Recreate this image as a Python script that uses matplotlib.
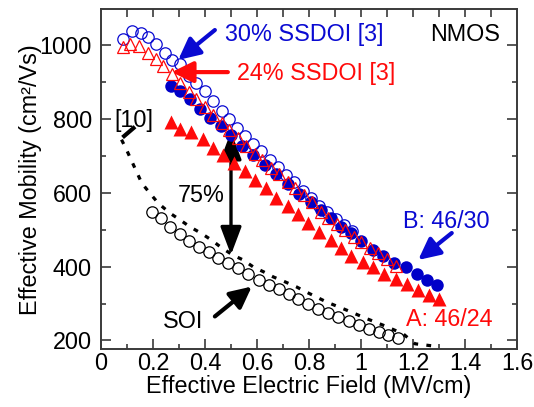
import numpy as np
import matplotlib
matplotlib.use("Agg")
import matplotlib.pyplot as plt
from matplotlib.ticker import MultipleLocator, FuncFormatter

plt.rcParams['font.family'] = ['Liberation Sans', 'DejaVu Sans']
plt.rcParams['font.size'] = 16.8

BLUE = '#0a0ad2'
RED = '#ff0a0a'

# 30% SSDOI [3] reference data (open blue circles)
ssdoi30_x = [0.084, 0.118, 0.152, 0.181, 0.211, 0.245, 0.274, 0.303, 0.338, 0.367,
             0.401, 0.430, 0.464, 0.494, 0.523, 0.552, 0.586, 0.616, 0.650, 0.679,
             0.713, 0.743, 0.777, 0.806, 0.840, 0.870, 0.904, 0.933, 0.967]
ssdoi30_y = [1018, 1039, 1033, 1021, 1003, 980, 959, 948, 916, 898,
             876, 849, 821, 799, 776, 753, 731, 712, 690, 670,
             648, 628, 606, 586, 565, 548, 530, 514, 497]

# 24% SSDOI [3] reference data (open red triangles)
ssdoi24_x = [0.084, 0.113, 0.147, 0.181, 0.211, 0.240, 0.274, 0.303, 0.338, 0.367,
             0.401, 0.430, 0.464, 0.494, 0.528, 0.557, 0.591, 0.621, 0.655, 0.684,
             0.718, 0.748, 0.782, 0.811, 0.845, 0.874, 0.909, 0.938, 0.972, 1.001,
             1.035, 1.065, 1.099, 1.133]
ssdoi24_y = [994, 1003, 998, 980, 962, 944, 921, 898, 874, 855,
             833, 812, 790, 770, 748, 727, 706, 688, 668, 650,
             630, 612, 594, 576, 548, 532, 515, 500, 480, 466,
             450, 436, 420, 402]

# device B: 46/30
dev_b_x = [0.269, 0.303, 0.342, 0.381, 0.421, 0.460, 0.499, 0.543, 0.586, 0.630,
           0.674, 0.718, 0.762, 0.806, 0.845, 0.884, 0.923, 0.962, 1.001, 1.045,
           1.084, 1.128, 1.172, 1.216, 1.255, 1.294]
dev_b_y = [889, 876, 853, 826, 803, 780, 756, 728, 703, 676,
           650, 624, 598, 576, 554, 531, 508, 490, 469, 445,
           429, 410, 398, 381, 365, 350]

# device A: 46/24
dev_a_x = [0.269, 0.303, 0.347, 0.391, 0.430, 0.469, 0.513, 0.552, 0.591, 0.635,
           0.674, 0.718, 0.757, 0.796, 0.840, 0.884, 0.923, 0.962, 1.006, 1.045,
           1.089, 1.133, 1.177, 1.221, 1.260, 1.299]
dev_a_y = [791, 773, 764, 746, 722, 703, 682, 658, 635, 612,
           587, 565, 542, 518, 495, 472, 450, 429, 413, 398,
           381, 366, 352, 336, 322, 312]

# SOI control
soi_x = [0.196, 0.230, 0.264, 0.303, 0.338, 0.377, 0.416, 0.450, 0.489, 0.528,
         0.567, 0.606, 0.645, 0.684, 0.723, 0.757, 0.796, 0.835, 0.874, 0.913,
         0.952, 0.992, 1.031, 1.070, 1.104, 1.143]
soi_y = [549, 531, 507, 488, 469, 454, 440, 422, 409, 395,
         379, 365, 351, 338, 326, 313, 300, 286, 274, 263,
         253, 241, 232, 223, 216, 206]

# SOI curve from [10]
ref10_x = [0.079, 0.098, 0.157, 0.188, 0.220, 0.265, 0.303, 0.342, 0.386, 0.425,
           0.464, 0.508, 0.547, 0.586, 0.625, 0.663, 0.707, 0.752, 0.790, 0.868,
           0.945, 1.022, 1.086, 1.162, 1.207, 1.277]
ref10_y = [744, 717, 626, 599, 572, 545, 527, 508, 490, 472,
           451, 431, 418, 399, 386, 372, 359, 345, 331, 304,
           282, 259, 241, 218, 191, 185]


def arrow(ax, tip, tail, color, style='-|>,head_length=0.65,head_width=0.32', lw=3):
    ax.annotate('', xy=tip, xytext=tail,
                arrowprops=dict(arrowstyle=style, mutation_scale=20, lw=lw,
                                color=color, shrinkA=0, shrinkB=0))


fig = plt.figure(figsize=(5.34, 4.07), dpi=100)
ax = fig.add_axes([0.1891, 0.1418, 0.7791, 0.8361])

ax.plot(ref10_x, ref10_y, color='black', lw=2.3, linestyle=(0, (1.5, 2.6)),
        dash_capstyle='butt', zorder=2)
ax.plot(soi_x, soi_y, 'o', ms=8.2, mfc='none', mec='black', mew=0.9, zorder=3)
ax.plot(ssdoi30_x, ssdoi30_y, 'o', ms=8.2, mfc='none', mec=BLUE, mew=0.9, zorder=3)
ax.plot(dev_b_x, dev_b_y, 'o', ms=9, color='#0000c8', mec='none', zorder=4)
ax.plot(ssdoi24_x, ssdoi24_y, '^', ms=8.5, mfc='none', mec=RED, mew=0.9, zorder=5)
ax.plot(dev_a_x, dev_a_y, '^', ms=9.5, color=RED, mec='none', zorder=5)

# text labels and arrows
ax.text(0.477, 1011, '30% SSDOI [3]', color=BLUE)
arrow(ax, (0.297, 960), (0.438, 1041), BLUE)
ax.text(0.522, 906, '24% SSDOI [3]', color=RED)
arrow(ax, (0.272, 927), (0.488, 927), RED)
ax.text(1.265, 1012, 'NMOS', color='black')

ax.text(0.127, 797, '[10]', ha='center', va='center')
ax.plot([0.131, 0.083], [779, 750], color='black', lw=3, solid_capstyle='butt')

arrow(ax, (0.5, 432), (0.5, 766), 'black',
      style='<|-|>,head_length=0.85,head_width=0.32', lw=2.4)
ax.text(0.387, 594, '75%', ha='center', va='center')

ax.text(0.237, 234, 'SOI', color='black')
arrow(ax, (0.580, 346), (0.438, 265), 'black')

ax.text(1.162, 504, 'B: 46/30', color=BLUE)
arrow(ax, (1.220, 418), (1.349, 491), BLUE)
ax.text(1.173, 240, 'A: 46/24', color=RED)

# axes styling
ax.set_xlim(0, 1.6)
ax.set_ylim(176, 1098)
ax.xaxis.set_major_locator(MultipleLocator(0.2))
ax.xaxis.set_minor_locator(MultipleLocator(0.1))
ax.yaxis.set_major_locator(MultipleLocator(200))
ax.yaxis.set_minor_locator(MultipleLocator(100))
ax.xaxis.set_major_formatter(FuncFormatter(lambda v, p: f'{v:g}'))

for side in ax.spines:
    ax.spines[side].set_color('#3a3a3a')
    ax.spines[side].set_linewidth(1.4)

ax.tick_params(which='both', direction='in', top=False, right=True,
               color='#3a3a3a', width=1.2)
ax.tick_params(which='major', length=7)
ax.tick_params(which='minor', length=3.5)
ax.tick_params(axis='x', pad=2)
ax.tick_params(axis='y', pad=6.5)

top = ax.secondary_xaxis('top')
top.set_xticks(np.arange(0.1, 1.6, 0.1))
top.tick_params(direction='in', length=6, width=1.2, color='#3a3a3a', labeltop=False)
top.spines['top'].set_visible(False)

ax.set_xlabel('Effective Electric Field (MV/cm)', labelpad=0)
ax.set_ylabel('Effective Mobility (cm²/Vs)', labelpad=-2)

fig.savefig('out.png', dpi=100)
